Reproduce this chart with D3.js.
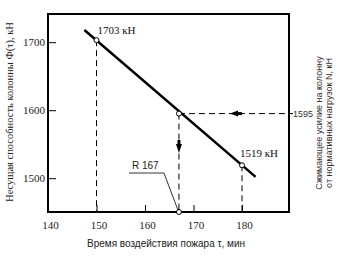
<!DOCTYPE html>
<html>
<head>
<meta charset="utf-8">
<script src="https://cdn.jsdelivr.net/npm/d3@7"></script>
<style>
  body { margin: 0; background: #fff; }
  svg { display: block; }
</style>
</head>
<body>
<div class="chart"></div>
<script>
// data
const timeTicks = [140, 150, 160, 170, 180];
const loadTicks = [1500, 1600, 1700];

// the bearing capacity line (ends of the drawn segment)
const lineTime = [147.5, 182.8];
const lineLoad = [1718, 1502];

// marked points on the line
const pointTime = [150, 167, 180];
const pointLoad = [1703, 1595, 1519];
const pointLabel = ["1703 кН", "", "1519 кН"];

// design load and fire resistance
const designLoad = 1595;
const fireResistance = 167;

// setup chart
const width = 340;
const height = 262;
const frame = { left: 48, right: 289, top: 14, bottom: 212 };

const svg = d3.select(".chart").append("svg").attr("width", width).attr("height", height);

const x = d3.scaleLinear().domain([140, 180]).range([48, 242]);
const y = d3.scaleLinear().domain([1500, 1700]).range([178.2, 42.2]);

const serif = "'Liberation Serif', 'Times New Roman', serif";
const sans = "'Liberation Sans', Arial, sans-serif";

// axes, ticks point inward
const xAxis = svg.append("g")
   .attr("transform", `translate(0,${frame.bottom})`)
   .call(d3.axisBottom(x).tickValues(timeTicks).tickFormat(d3.format("d"))
      .tickSizeInner(-7).tickSizeOuter(0).tickPadding(9));
const yAxis = svg.append("g")
   .attr("transform", `translate(${frame.left},0)`)
   .call(d3.axisLeft(y).tickValues(loadTicks).tickFormat(d3.format("d"))
      .tickSizeInner(-8).tickSizeOuter(0).tickPadding(3));

[xAxis, yAxis].forEach((g) => {
   g.select(".domain").remove();
   g.selectAll("line").attr("stroke", "#000").attr("stroke-width", 1);
   g.selectAll("text").attr("font-family", serif).attr("font-size", 11).attr("fill", "#222");
});
xAxis.selectAll("text").attr("dx", 2);

// dashed guides
const dash = "6,4";
const guides = svg.append("g").attr("stroke", "#000").attr("stroke-width", 1).attr("stroke-dasharray", dash);
pointTime.forEach((t, i) => {
   guides.append("line")
      .attr("x1", x(t)).attr("x2", x(t))
      .attr("y1", y(pointLoad[i])).attr("y2", frame.bottom);
});
guides.append("line")
   .attr("x1", x(fireResistance)).attr("x2", frame.right)
   .attr("y1", y(designLoad)).attr("y2", y(designLoad));

// frame
svg.append("rect")
   .attr("x", frame.left).attr("y", frame.top)
   .attr("width", frame.right - frame.left).attr("height", frame.bottom - frame.top)
   .attr("fill", "none").attr("stroke", "#000").attr("stroke-width", 2);

// right side marker for design load
svg.append("line")
   .attr("x1", frame.right).attr("x2", frame.right + 4)
   .attr("y1", y(designLoad)).attr("y2", y(designLoad))
   .attr("stroke", "#000");
svg.append("text")
   .attr("x", frame.right + 4).attr("y", y(designLoad))
   .attr("dy", "0.35em")
   .attr("font-family", sans).attr("font-size", 9).attr("fill", "#333")
   .text(designLoad);

// arrows
const ax = (x(fireResistance) + frame.right) / 2 - 4;
const ay = y(designLoad);
svg.append("path")
   .attr("d", `M${ax},${ay} L${ax + 8},${ay - 3} L${ax + 8},${ay + 3} Z`)
   .attr("fill", "#000");
svg.append("rect").attr("x", ax + 8).attr("y", ay - 1.5).attr("width", 4).attr("height", 3).attr("fill", "#000");

const vx = x(fireResistance);
const vy = y(designLoad) + 0.4 * (frame.bottom - y(designLoad));
svg.append("path")
   .attr("d", `M${vx},${vy} L${vx - 3},${vy - 9} L${vx + 3},${vy - 9} Z`)
   .attr("fill", "#000");
svg.append("rect").attr("x", vx - 1.5).attr("y", vy - 13).attr("width", 3).attr("height", 4).attr("fill", "#000");

// capacity line
svg.append("path")
   .datum(lineTime.map((t, i) => [t, lineLoad[i]]))
   .attr("d", d3.line().x((d) => x(d[0])).y((d) => y(d[1])))
   .attr("stroke", "#000").attr("stroke-width", 2.5).attr("fill", "none");

// points
const pts = pointTime.map((t, i) => ({ t, v: pointLoad[i], label: pointLabel[i] }));
pts.push({ t: fireResistance, v: null, label: "" });
svg.selectAll("circle.pt").data(pts).enter().append("circle")
   .attr("class", "pt")
   .attr("cx", (d) => x(d.t))
   .attr("cy", (d) => (d.v === null ? frame.bottom : y(d.v)))
   .attr("r", 2.5)
   .attr("fill", "#fff").attr("stroke", "#000").attr("stroke-width", 1);

svg.selectAll("text.pt").data(pts.filter((d) => d.label)).enter().append("text")
   .attr("class", "pt")
   .attr("x", (d, i) => x(d.t) + (i === 0 ? 1 : -2))
   .attr("y", (d, i) => y(d.v) - (i === 0 ? 6 : 8))
   .attr("font-family", serif).attr("font-size", 11).attr("fill", "#111")
   .text((d) => d.label);

// R label with leader
const rx = x(fireResistance);
svg.append("path")
   .attr("d", `M${rx - 50},${173} L${rx - 15},${173} L${rx - 1},${frame.bottom - 2}`)
   .attr("stroke", "#000").attr("stroke-width", 0.8).attr("fill", "none");
svg.append("text")
   .attr("x", rx - 47).attr("y", 169)
   .attr("font-family", sans).attr("font-size", 10).attr("fill", "#222")
   .text(`R ${fireResistance}`);

// axis titles
svg.append("text")
   .attr("x", 166).attr("y", 247)
   .attr("text-anchor", "middle")
   .attr("font-family", sans).attr("font-size", 10).attr("fill", "#222")
   .text("Время воздействия пожара τ, мин");

svg.append("text")
   .attr("transform", "translate(9,112) rotate(-90)")
   .attr("text-anchor", "middle").attr("dy", "0.35em")
   .attr("font-family", serif).attr("font-size", 10.5).attr("fill", "#222")
   .text("Несущая способность колонны Ф(τ), кН");

const rightTitle = ["Сжимающее усилие на колонну", "от нормативных нагрузок N, кН"];
svg.selectAll("text.rt").data(rightTitle).enter().append("text")
   .attr("class", "rt")
   .attr("transform", (d, i) => `translate(${318.5 + i * 10.5},123) rotate(-90)`)
   .attr("text-anchor", "middle").attr("dy", "0.35em")
   .attr("font-family", sans).attr("font-size", 9).attr("fill", "#333")
   .text((d) => d);
</script>
</body>
</html>
